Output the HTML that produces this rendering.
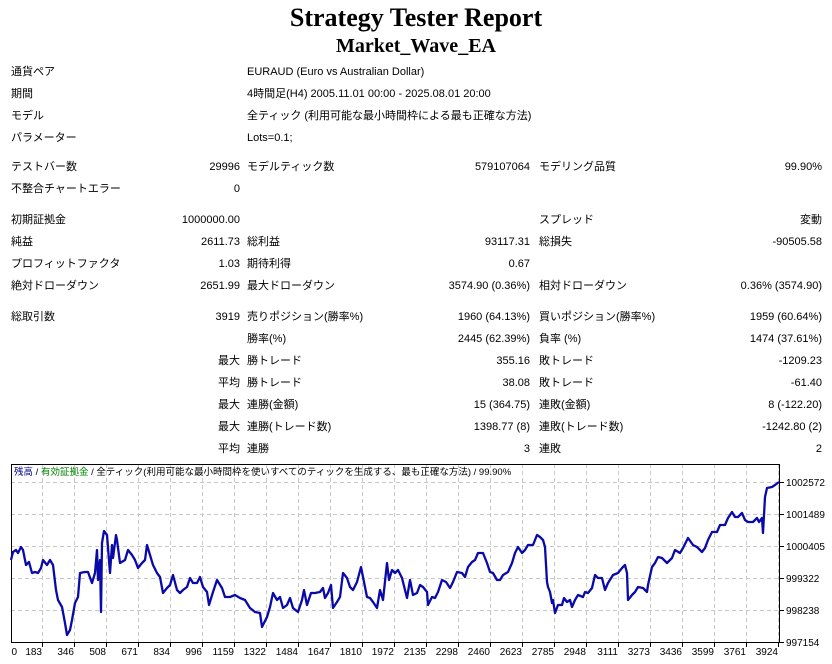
<!DOCTYPE html>
<html><head><meta charset="utf-8"><style>
body{margin:0;width:832px;height:664px;background:#fff;position:relative;overflow:hidden;font-family:"Liberation Sans","Noto Sans CJK JP",sans-serif;font-size:11px;color:#000}
.t{position:absolute;white-space:nowrap;line-height:13px}
.r{text-align:right}
h1{position:absolute;left:0;width:832px;top:3px;margin:0;text-align:center;font:bold 26px "Liberation Serif",serif}
h2{position:absolute;left:0;width:832px;top:35px;margin:0;text-align:center;font:bold 20px "Liberation Serif",serif}
</style></head><body>
<h1>Strategy Tester Report</h1>
<h2>Market_Wave_EA</h2>
<div class="t" style="left:11px;top:66px">通貨ペア</div><div class="t" style="left:247px;top:66px">EURAUD (Euro vs Australian Dollar)</div>
<div class="t" style="left:11px;top:88px">期間</div><div class="t" style="left:247px;top:88px">4時間足(H4) 2005.11.01 00:00 - 2025.08.01 20:00</div>
<div class="t" style="left:11px;top:110px">モデル</div><div class="t" style="left:247px;top:110px">全ティック (利用可能な最小時間枠による最も正確な方法)</div>
<div class="t" style="left:11px;top:132px">パラメーター</div><div class="t" style="left:247px;top:132px">Lots=0.1;</div>

<div class="t" style="left:11px;top:161px">テストバー数</div><div class="t r" style="right:592px;top:161px">29996</div><div class="t" style="left:247px;top:161px">モデルティック数</div><div class="t r" style="right:302px;top:161px">579107064</div><div class="t" style="left:539px;top:161px">モデリング品質</div><div class="t r" style="right:10px;top:161px">99.90%</div>
<div class="t" style="left:11px;top:183px">不整合チャートエラー</div><div class="t r" style="right:592px;top:183px">0</div>

<div class="t" style="left:11px;top:214px">初期証拠金</div><div class="t r" style="right:592px;top:214px">1000000.00</div><div class="t" style="left:539px;top:214px">スプレッド</div><div class="t r" style="right:10px;top:214px">変動</div>
<div class="t" style="left:11px;top:236px">純益</div><div class="t r" style="right:592px;top:236px">2611.73</div><div class="t" style="left:247px;top:236px">総利益</div><div class="t r" style="right:302px;top:236px">93117.31</div><div class="t" style="left:539px;top:236px">総損失</div><div class="t r" style="right:10px;top:236px">-90505.58</div>
<div class="t" style="left:11px;top:258px">プロフィットファクタ</div><div class="t r" style="right:592px;top:258px">1.03</div><div class="t" style="left:247px;top:258px">期待利得</div><div class="t r" style="right:302px;top:258px">0.67</div>
<div class="t" style="left:11px;top:280px">絶対ドローダウン</div><div class="t r" style="right:592px;top:280px">2651.99</div><div class="t" style="left:247px;top:280px">最大ドローダウン</div><div class="t r" style="right:302px;top:280px">3574.90 (0.36%)</div><div class="t" style="left:539px;top:280px">相対ドローダウン</div><div class="t r" style="right:10px;top:280px">0.36% (3574.90)</div>

<div class="t" style="left:11px;top:311px">総取引数</div><div class="t r" style="right:592px;top:311px">3919</div><div class="t" style="left:247px;top:311px">売りポジション(勝率%)</div><div class="t r" style="right:302px;top:311px">1960 (64.13%)</div><div class="t" style="left:539px;top:311px">買いポジション(勝率%)</div><div class="t r" style="right:10px;top:311px">1959 (60.64%)</div>
<div class="t" style="left:247px;top:333px">勝率(%)</div><div class="t r" style="right:302px;top:333px">2445 (62.39%)</div><div class="t" style="left:539px;top:333px">負率 (%)</div><div class="t r" style="right:10px;top:333px">1474 (37.61%)</div>
<div class="t r" style="right:592px;top:355px">最大</div><div class="t" style="left:247px;top:355px">勝トレード</div><div class="t r" style="right:302px;top:355px">355.16</div><div class="t" style="left:539px;top:355px">敗トレード</div><div class="t r" style="right:10px;top:355px">-1209.23</div>
<div class="t r" style="right:592px;top:377px">平均</div><div class="t" style="left:247px;top:377px">勝トレード</div><div class="t r" style="right:302px;top:377px">38.08</div><div class="t" style="left:539px;top:377px">敗トレード</div><div class="t r" style="right:10px;top:377px">-61.40</div>
<div class="t r" style="right:592px;top:399px">最大</div><div class="t" style="left:247px;top:399px">連勝(金額)</div><div class="t r" style="right:302px;top:399px">15 (364.75)</div><div class="t" style="left:539px;top:399px">連敗(金額)</div><div class="t r" style="right:10px;top:399px">8 (-122.20)</div>
<div class="t r" style="right:592px;top:421px">最大</div><div class="t" style="left:247px;top:421px">連勝(トレード数)</div><div class="t r" style="right:302px;top:421px">1398.77 (8)</div><div class="t" style="left:539px;top:421px">連敗(トレード数)</div><div class="t r" style="right:10px;top:421px">-1242.80 (2)</div>
<div class="t r" style="right:592px;top:443px">平均</div><div class="t" style="left:247px;top:443px">連勝</div><div class="t r" style="right:302px;top:443px">3</div><div class="t" style="left:539px;top:443px">連敗</div><div class="t r" style="right:10px;top:443px">2</div>

<svg style="position:absolute;left:0;top:0" width="832" height="664" font-family="Liberation Sans, Noto Sans CJK JP, sans-serif">
<g stroke="#c8c8c8" stroke-dasharray="4,3" stroke-width="1">
<path d="M42.5 464V642M74.5 464V642M106.5 464V642M138.5 464V642M170.5 464V642M202.5 464V642M234.5 464V642M266.5 464V642M298.5 464V642M330.5 464V642M362.5 464V642M394.5 464V642M426.5 464V642M458.5 464V642M490.5 464V642M522.5 464V642M554.5 464V642M586.5 464V642M618.5 464V642M650.5 464V642M682.5 464V642M714.5 464V642M746.5 464V642M778.5 464V642"/>
<path d="M11 482.5H780M11 514.5H780M11 546.5H780M11 578.5H780M11 610.5H780"/>
</g>
<rect x="11.5" y="464.5" width="768" height="178" fill="none" stroke="#000"/>
<g stroke="#000"><path d="M780 482.5h4M780 514.5h4M780 546.5h4M780 578.5h4M780 610.5h4M780 642.5h4"/>
<path d="M42.5 643v4M74.5 643v4M106.5 643v4M138.5 643v4M170.5 643v4M202.5 643v4M234.5 643v4M266.5 643v4M298.5 643v4M330.5 643v4M362.5 643v4M394.5 643v4M426.5 643v4M458.5 643v4M490.5 643v4M522.5 643v4M554.5 643v4M586.5 643v4M618.5 643v4M650.5 643v4M682.5 643v4M714.5 643v4M746.5 643v4M778.5 643v4"/></g>
<text x="14" y="475" font-size="9.5"><tspan fill="#000080">残高</tspan> / <tspan fill="#008000">有効証拠金</tspan> / 全ティック(利用可能な最小時間枠を使いすべてのティックを生成する、最も正確な方法) / 99.90%</text>
<g font-size="10" fill="#000">
<text x="786" y="486">1002572</text><text x="786" y="518">1001489</text><text x="786" y="550">1000405</text><text x="786" y="582">999322</text><text x="786" y="614">998238</text><text x="786" y="646">997154</text>
</g>
<g font-size="10" fill="#000" text-anchor="end">
<text x="17" y="655">0</text><text x="42" y="655">183</text><text x="74" y="655">346</text><text x="106" y="655">508</text><text x="138" y="655">671</text><text x="170" y="655">834</text><text x="202" y="655">996</text><text x="234" y="655">1159</text><text x="266" y="655">1322</text><text x="298" y="655">1484</text><text x="330" y="655">1647</text><text x="362" y="655">1810</text><text x="394" y="655">1972</text><text x="426" y="655">2135</text><text x="458" y="655">2298</text><text x="490" y="655">2460</text><text x="522" y="655">2623</text><text x="554" y="655">2785</text><text x="586" y="655">2948</text><text x="618" y="655">3111</text><text x="650" y="655">3273</text><text x="682" y="655">3436</text><text x="714" y="655">3599</text><text x="746" y="655">3761</text><text x="778" y="655">3924</text>
</g>
<polyline fill="none" stroke="#0a0aa8" stroke-width="2.3" stroke-linejoin="round" points="11,560 13,552 16,550 18,553 21,547 23,550 26,565 29,562 32,573 35,572 38,573 41,568 43,560 47,565 50,560 53,565 56,590 58,600 62,607 65,623 67,635 70,630 72,620 75,603 78,597 80,573 85,572 88,572 92,583 95,573 97,550 98,580 100,560 101,612 102,543 104,531 107,535 110,573 112,545 113,558 116,535 117,540 120,563 125,560 128,550 132,555 135,560 138,568 142,563 145,560 147,545 150,555 153,565 157,573 160,577 163,593 167,588 170,585 173,575 177,590 180,593 183,590 187,587 190,578 193,583 197,583 200,577 203,587 207,592 209,605 213,592 217,580 222,588 225,597 230,597 235,595 240,598 245,600 250,608 255,612 260,613 262,627 267,617 270,607 273,593 277,600 280,597 283,608 287,605 290,598 293,608 298,612 302,600 304,590 307,605 311,593 315,593 320,592 323,588 325,598 328,593 331,585 333,608 337,602 340,597 343,573 347,578 350,587 353,590 357,582 361,567 363,577 367,597 370,598 373,602 377,608 380,590 383,600 387,563 389,580 392,570 395,573 398,570 402,578 405,590 407,598 410,580 413,595 417,593 420,585 423,587 427,592 428,605 432,597 435,598 438,592 442,580 446,582 450,588 453,582 457,572 462,573 465,577 468,567 472,562 475,560 478,553 483,553 487,563 490,572 493,573 497,580 500,580 503,575 508,572 512,563 515,553 518,547 522,553 525,550 528,545 533,545 537,535 540,537 543,540 545,547 547,582 548,587 550,592 552,603 553,600 555,613 558,605 562,605 564,598 567,602 570,600 572,607 575,600 578,595 583,597 585,592 588,593 592,588 595,575 598,578 602,578 605,590 608,583 613,575 618,573 622,568 625,565 627,573 628,600 632,595 635,592 638,587 643,588 647,592 648,585 652,567 655,563 658,557 662,558 667,563 672,558 675,550 680,553 683,548 688,538 693,545 697,547 702,552 705,548 708,540 712,532 717,532 720,525 725,525 728,518 732,512 735,517 738,517 742,513 745,520 748,522 753,522 757,518 759,522 762,518 763,533 765,497 767,488 772,487 775,485 779,482"/>
</svg>
</body></html>
